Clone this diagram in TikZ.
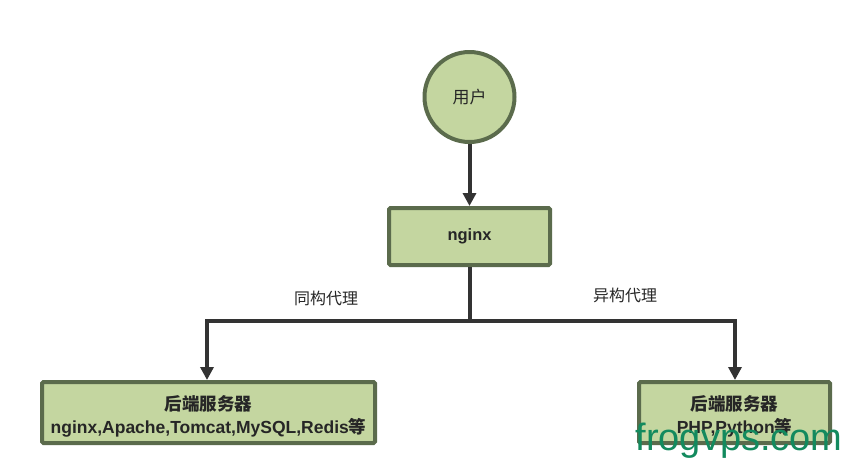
\documentclass[tikz,border=0pt]{standalone}
\usepackage{fontspec}
\setmainfont{Liberation Sans}
\newfontfamily\cjk{Noto Sans CJK SC}
\usetikzlibrary{arrows.meta,positioning}
\definecolor{boxfill}{HTML}{C4D6A0}
\definecolor{boxline}{HTML}{5B6B4C}
\definecolor{conn}{HTML}{333333}
\definecolor{wm}{HTML}{138A5E}
\begin{document}
\begin{tikzpicture}[x=1pt,y=-1pt,
  greenbox/.style={draw=boxline, fill=boxfill, line width=4pt, rounded corners=1.5pt, inner sep=0pt, align=center, font=\fontsize{16.5}{22}\selectfont\bfseries, text=black!85},
  boxtext/.style={inner sep=0pt, align=center, font=\fontsize{17.5}{23}\selectfont\bfseries, text=black!85},
  conn/.style={draw=conn, line width=4pt, -{Triangle[length=13pt,width=13pt]}},
  lbl/.style={font=\cjk\fontsize{16}{18}\selectfont, text=black!85}
]
\useasboundingbox (0,0) rectangle (857,469);
\node[greenbox, circle, minimum size=90pt, font=\cjk\fontsize{17}{20}\selectfont] (user) at (469.5,97) {用户};
\node[greenbox, minimum width=161pt, minimum height=57pt] (nginx) at (469.5,236.5) {nginx};
\node[greenbox, minimum width=333pt, minimum height=61pt] (left) at (208.5,412.5) {};
\node[boxtext] (lefttext) at ([yshift=-4pt]left.center) {{\cjk 后端服务器}\\nginx,Apache,Tomcat,MySQL,Redis{\cjk 等}};
\node[greenbox, minimum width=191pt, minimum height=61pt] (right) at (734.5,412.5) {};
\node[boxtext] (righttext) at ([yshift=-4pt]right.center) {{\cjk 后端服务器}\\PHP,Python{\cjk 等}};
\coordinate (split) at (469.5,321);
\draw[conn] (user) -- (nginx);
\draw[conn, -] (nginx) -- (split);
\draw[conn] (split) -| (left.north -| 207,0);
\draw[conn] (split) -| (right.north -| 735,0);
\node[lbl] (l1) at (326,298) {同构代理};
\node[lbl] (l2) at (625,295) {异构代理};
\node[font=\fontsize{38}{42}\selectfont, text=wm] (wmk) at (739,441) {frogvps.com};
\end{tikzpicture}
\end{document}
